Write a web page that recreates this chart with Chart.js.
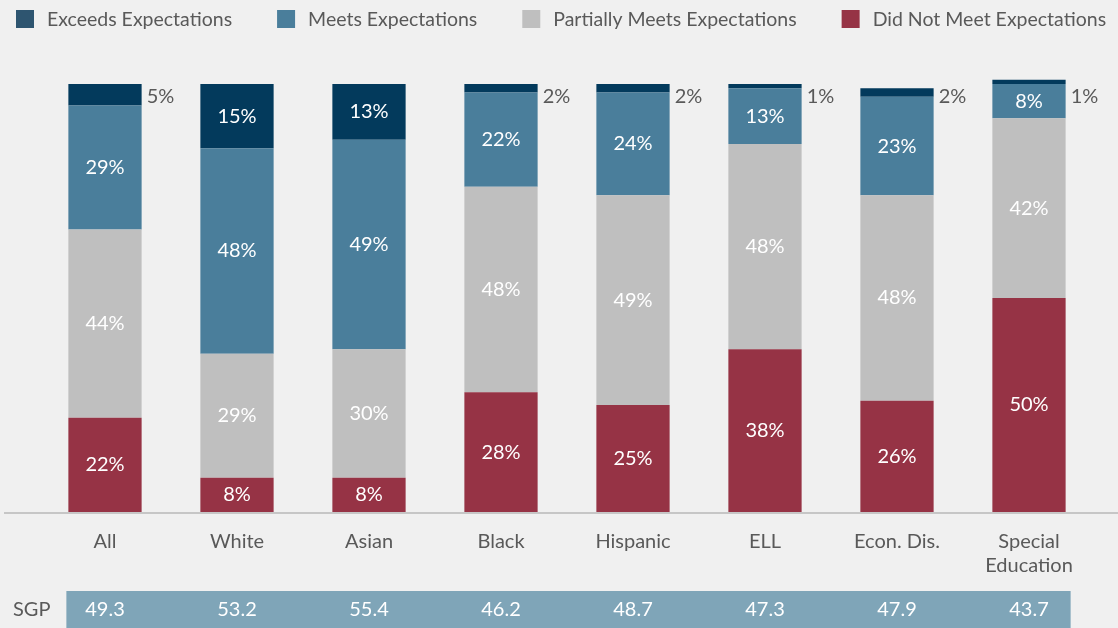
<!DOCTYPE html>
<html>
<head>
<meta charset="utf-8">
<script src="https://cdn.jsdelivr.net/npm/chart.js@4.4.1/dist/chart.umd.min.js"></script>
<style>
    html, body { margin: 0; padding: 0; background: #f0f0f0; }
    #wrap { width: 1118px; height: 628px; position: relative; }
</style>
</head>
<body>
<div id="wrap"><canvas id="chart"></canvas></div>
<script>
const categories = ["All", "White", "Asian", "Black", "Hispanic", "ELL", "Econ. Dis.", ["Special", "Education"]];
const exceeds = [5, 15, 13, 2, 2, 1, 2, 1];
const meets = [29, 48, 49, 22, 24, 13, 23, 8];
const partially = [44, 29, 30, 48, 49, 48, 48, 42];
const didNotMeet = [22, 8, 8, 28, 25, 38, 26, 50];
const sgpLabel = "SGP";
const sgpValues = [49.3, 53.2, 55.4, 46.2, 48.7, 47.3, 47.9, 43.7];

const FONT = "Lato, 'Open Sans', sans-serif";
const TEXT_GRAY = "#595959";

// legend drawn on canvas, top row, items in reverse stack order
const topLegend = {
    id: "topLegend",
    afterDraw(chart) {
        const ctx = chart.ctx;
        ctx.save();
        ctx.font = "19.5px " + FONT;
        ctx.textBaseline = "middle";
        ctx.textAlign = "left";
        let x = 16;
        const items = chart.data.datasets.slice().reverse();
        items.forEach(ds => {
            ctx.fillStyle = ds.legendColor || ds.backgroundColor;
            ctx.fillRect(x, 10, 18, 18);
            ctx.fillStyle = TEXT_GRAY;
            ctx.fillText(ds.label, x + 31, 20);
            x += 31 + ctx.measureText(ds.label).width + 45;
        });
        ctx.restore();
    }
};

// percent labels on every segment; small top values go to the right of the bar
const segmentLabels = {
    id: "segmentLabels",
    afterDatasetsDraw(chart) {
        const ctx = chart.ctx;
        const yScale = chart.scales.y;
        const last = chart.data.datasets.length - 1;
        ctx.save();
        ctx.font = "20px " + FONT;
        ctx.textBaseline = "middle";
        chart.data.datasets.forEach((ds, di) => {
            chart.getDatasetMeta(di).data.forEach((bar, i) => {
                const v = ds.data[i];
                const txt = v + "%";
                if (di === last && v < 10) {
                    ctx.fillStyle = TEXT_GRAY;
                    ctx.textAlign = "left";
                    ctx.fillText(txt, bar.x + bar.width / 2 + 5, yScale.getPixelForValue(100) + 13);
                } else {
                    ctx.fillStyle = "#ffffff";
                    ctx.textAlign = "center";
                    ctx.fillText(txt, bar.x, (bar.y + bar.base) / 2);
                }
            });
        });
        ctx.restore();
    }
};

// baseline rule and the SGP strip under the category labels
const sgpRow = {
    id: "sgpRow",
    afterDraw(chart) {
        const ctx = chart.ctx;
        const area = chart.chartArea;
        const bars = chart.getDatasetMeta(0).data;
        const first = bars[0];
        const lastBar = bars[bars.length - 1];

        ctx.save();
        ctx.strokeStyle = "#c6c6c6";
        ctx.lineWidth = 2;
        ctx.beginPath();
        ctx.moveTo(4, area.bottom + 1);
        ctx.lineTo(chart.width, area.bottom + 1);
        ctx.stroke();

        const top = 591;
        const left = first.x - first.width / 2 - 2;
        const right = lastBar.x + lastBar.width / 2 + 5;
        ctx.fillStyle = "#7fa5b8";
        ctx.fillRect(left, top, right - left, chart.height - top);

        ctx.font = "20px " + FONT;
        ctx.textBaseline = "middle";
        ctx.textAlign = "left";
        ctx.fillStyle = TEXT_GRAY;
        ctx.fillText(sgpLabel, 13, top + 19);

        ctx.textAlign = "center";
        ctx.fillStyle = "#ffffff";
        bars.forEach((bar, i) => {
            ctx.fillText(sgpValues[i].toFixed(1), bar.x, top + 19);
        });
        ctx.restore();
    }
};

const ctx = document.getElementById("chart").getContext("2d");
new Chart(ctx, {
    type: "bar",
    data: {
        labels: categories,
        datasets: [
            { label: "Did Not Meet Expectations", data: didNotMeet, backgroundColor: "#963345" },
            { label: "Partially Meets Expectations", data: partially, backgroundColor: "#bfbfbf" },
            { label: "Meets Expectations", data: meets, backgroundColor: "#4a7e9b" },
            { label: "Exceeds Expectations", data: exceeds, backgroundColor: "#033a5c", legendColor: "#2e5570" }
        ]
    },
    options: {
        responsive: true,
        maintainAspectRatio: false,
        animation: false,
        layout: { padding: { top: 84, left: 39, right: 23, bottom: 40 } },
        datasets: {
            bar: { barPercentage: 0.555, categoryPercentage: 1, borderWidth: 0, clip: false }
        },
        plugins: {
            legend: { display: false },
            tooltip: { enabled: false }
        },
        scales: {
            x: {
                stacked: true,
                grid: { display: false },
                border: { display: false },
                ticks: {
                    color: TEXT_GRAY,
                    padding: 10,
                    font: { family: FONT, size: 20, lineHeight: 1.2 }
                }
            },
            y: {
                stacked: true,
                display: false,
                min: 0,
                max: 100
            }
        }
    },
    plugins: [topLegend, segmentLabels, sgpRow]
});
</script>
</body>
</html>
